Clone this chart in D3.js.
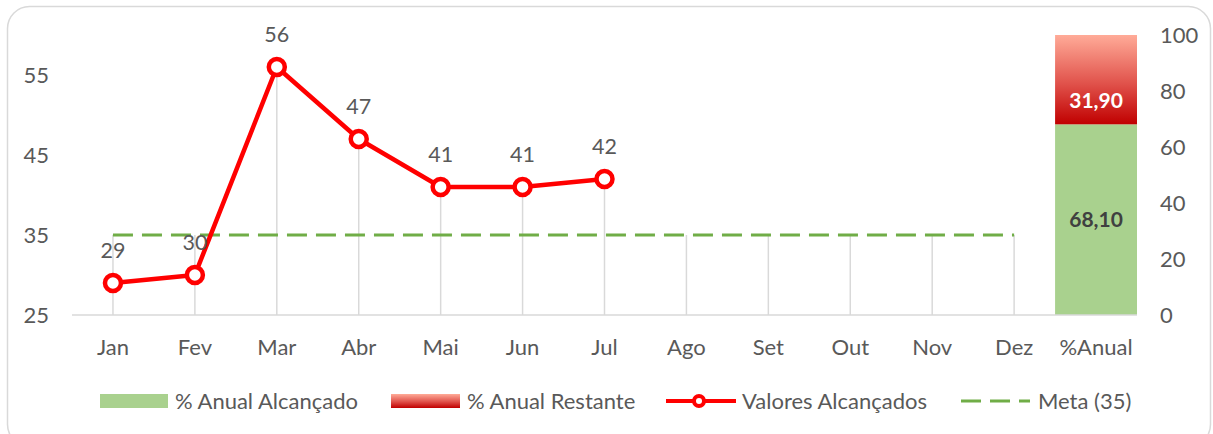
<!DOCTYPE html>
<html>
<head>
<meta charset="utf-8">
<script src="https://cdn.jsdelivr.net/npm/d3@7"></script>
<style>
  body { margin: 0; background: #fff; }
  text { font-family: Lato, "Open Sans", sans-serif; fill: #595959; }
</style>
</head>
<body>
<div id="wrapper"></div>
<script>
const months = ["Jan", "Fev", "Mar", "Abr", "Mai", "Jun", "Jul", "Ago", "Set", "Out", "Nov", "Dez"];
const categories = [...months, "%Anual"];
const valores = [29, 30, 56, 47, 41, 41, 42];   // Jan..Jul
const meta = 35;
const anualAlcancado = 68.10;
const anualRestante = 31.90;
const leftTicks = [25, 35, 45, 55];
const rightTicks = [0, 20, 40, 60, 80, 100];

function drawChart() {
    const dimensions = { width: 1213, height: 434 };
    const plot = { left: 72, right: 1137, top: 35, bottom: 315 };

    const svg = d3.select("#wrapper")
        .append("svg")
            .attr("width", dimensions.width)
            .attr("height", dimensions.height);

    // chart frame
    svg.append("rect")
        .attr("x", 7.5).attr("y", 6.5)
        .attr("width", 1203).attr("height", 440)
        .attr("rx", 22)
        .attr("fill", "#fff")
        .attr("stroke", "#d9d9d9")
        .attr("stroke-width", 1.5);

    const defs = svg.append("defs");
    const grad = defs.append("linearGradient")
        .attr("id", "redGrad")
        .attr("x1", 0).attr("y1", 0).attr("x2", 0).attr("y2", 1);
    grad.append("stop").attr("offset", "0%").attr("stop-color", "#ffab98");
    grad.append("stop").attr("offset", "55%").attr("stop-color", "#e0514a");
    grad.append("stop").attr("offset", "100%").attr("stop-color", "#c00000");

    const xScale = d3.scaleBand()
        .domain(categories)
        .range([plot.left, plot.right])
        .padding(0);
    const xMid = c => xScale(c) + xScale.bandwidth() / 2;

    const yLeft = d3.scaleLinear().domain([25, 60]).range([plot.bottom, plot.top]);
    const yRight = d3.scaleLinear().domain([0, 100]).range([plot.bottom, plot.top]);

    // drop lines
    svg.append("g")
        .selectAll("line")
        .data(months)
        .join("line")
            .attr("x1", d => xMid(d))
            .attr("x2", d => xMid(d))
            .attr("y1", yLeft(25))
            .attr("y2", (d, i) => yLeft(Math.max(meta, valores[i] ?? meta)))
            .attr("stroke", "#d9d9d9")
            .attr("stroke-width", 1.5);

    // stacked bar on secondary axis
    const bx = xScale("%Anual");
    svg.append("rect")
        .attr("x", bx).attr("width", xScale.bandwidth())
        .attr("y", yRight(anualAlcancado))
        .attr("height", yRight(0) - yRight(anualAlcancado))
        .attr("fill", "#a9d18e");
    svg.append("rect")
        .attr("x", bx).attr("width", xScale.bandwidth())
        .attr("y", yRight(anualAlcancado + anualRestante))
        .attr("height", yRight(anualAlcancado) - yRight(anualAlcancado + anualRestante))
        .attr("fill", "url(#redGrad)");

    svg.append("text")
        .attr("x", xMid("%Anual"))
        .attr("y", yRight(anualAlcancado / 2))
        .attr("dy", "0.35em")
        .attr("text-anchor", "middle")
        .style("font-size", "21px").style("font-weight", "bold").style("fill", "#404040")
        .text(d3.format(".2f")(anualAlcancado).replace(".", ","));
    svg.append("text")
        .attr("x", xMid("%Anual"))
        .attr("y", yRight(anualAlcancado) - 24)
        .attr("dy", "0.35em")
        .attr("text-anchor", "middle")
        .style("font-size", "21px").style("font-weight", "bold").style("fill", "#fff")
        .text(d3.format(".2f")(anualRestante).replace(".", ","));

    // category axis
    svg.append("line")
        .attr("x1", plot.left).attr("x2", plot.right)
        .attr("y1", plot.bottom).attr("y2", plot.bottom)
        .attr("stroke", "#d9d9d9").attr("stroke-width", 1.5);

    const xAxis = svg.append("g")
        .attr("transform", `translate(0, ${plot.bottom})`)
        .call(d3.axisBottom(xScale).tickSize(0).tickPadding(24));
    xAxis.select(".domain").remove();
    xAxis.selectAll("text").style("font-size", "22px").style("fill", "#595959").style("font-family", "Lato");

    const yAxisLeft = svg.append("g")
        .attr("transform", `translate(${plot.left - 23}, 0)`)
        .call(d3.axisLeft(yLeft).tickValues(leftTicks).tickSize(0).tickPadding(0));
    yAxisLeft.select(".domain").remove();
    yAxisLeft.selectAll("text").style("font-size", "22px").style("fill", "#595959").style("font-family", "Lato");

    const yAxisRight = svg.append("g")
        .attr("transform", `translate(${plot.right + 23}, 0)`)
        .call(d3.axisRight(yRight).tickValues(rightTicks).tickSize(0).tickPadding(0));
    yAxisRight.select(".domain").remove();
    yAxisRight.selectAll("text").style("font-size", "22px").style("fill", "#595959").style("font-family", "Lato");

    // meta line
    svg.append("line")
        .attr("x1", xMid("Jan")).attr("x2", xMid("Dez"))
        .attr("y1", yLeft(meta)).attr("y2", yLeft(meta))
        .attr("stroke", "#70ad47").attr("stroke-width", 3)
        .attr("stroke-dasharray", "20 9");

    // valores line
    const lineGenerator = d3.line()
        .x((d, i) => xMid(months[i]))
        .y(d => yLeft(d));
    svg.append("path")
        .attr("d", lineGenerator(valores))
        .attr("fill", "none")
        .attr("stroke", "#ff0000")
        .attr("stroke-width", 4.5)
        .attr("stroke-linejoin", "round");

    svg.append("g")
        .selectAll("circle")
        .data(valores)
        .join("circle")
            .attr("cx", (d, i) => xMid(months[i]))
            .attr("cy", d => yLeft(d))
            .attr("r", 8)
            .attr("fill", "#fff")
            .attr("stroke", "#ff0000")
            .attr("stroke-width", 4.5);

    svg.append("g")
        .selectAll("text")
        .data(valores)
        .join("text")
            .attr("x", (d, i) => xMid(months[i]))
            .attr("y", d => yLeft(d) - 33)
            .attr("dy", "0.35em")
            .attr("text-anchor", "middle")
            .style("font-size", "21.5px")
            .text(d => d);

    // legend
    const legend = svg.append("g").attr("transform", "translate(0, 401)");
    legend.append("rect").attr("x", 100).attr("y", -7).attr("width", 68).attr("height", 14).attr("fill", "#a9d18e");
    legend.append("text").attr("x", 175).attr("dy", "0.35em").style("font-size", "22px").text("% Anual Alcançado");

    legend.append("rect").attr("x", 391).attr("y", -7).attr("width", 69).attr("height", 14).attr("fill", "url(#redGrad)");
    legend.append("text").attr("x", 467).attr("dy", "0.35em").style("font-size", "22px").text("% Anual Restante");

    legend.append("line").attr("x1", 666).attr("x2", 736).attr("stroke", "#ff0000").attr("stroke-width", 4);
    legend.append("circle").attr("cx", 699).attr("r", 5).attr("fill", "#fff").attr("stroke", "#ff0000").attr("stroke-width", 4);
    legend.append("text").attr("x", 742).attr("dy", "0.35em").style("font-size", "22px").text("Valores Alcançados");

    legend.append("line").attr("x1", 961).attr("x2", 1030).attr("stroke", "#70ad47").attr("stroke-width", 3)
        .attr("stroke-dasharray", "20 9");
    legend.append("text").attr("x", 1038).attr("dy", "0.35em").style("font-size", "22px").text("Meta (35)");
}

drawChart();
</script>
</body>
</html>
